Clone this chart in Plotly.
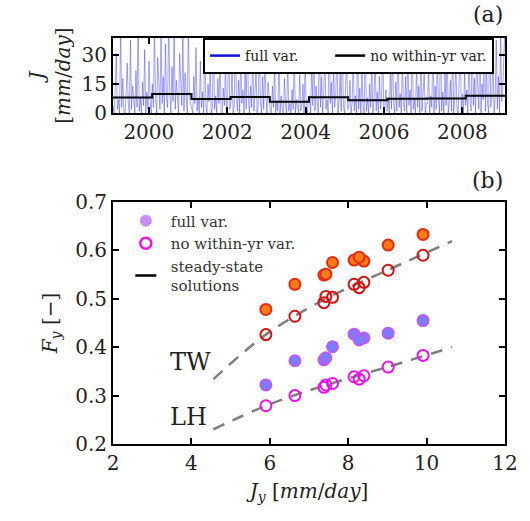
import pandas as pd
import plotly.graph_objects as go

# ---------------- data ----------------
years = [1999, 2000, 2001, 2002, 2003, 2004, 2005, 2006, 2007, 2008]
year_starts = ["1999-02-01", "2000-02-01", "2001-02-01", "2002-02-01", "2003-02-01",
               "2004-02-01", "2005-02-01", "2006-02-01", "2007-02-01", "2008-02-01",
               "2009-02-01"]
# annual mean rainfall rate J_y [mm/day]
J_annual = [8.15, 9.91, 7.38, 8.40, 5.90, 8.28, 6.64, 7.43, 7.60, 9.02]

# F_y values per year
TW_full = [0.580, 0.633, 0.549, 0.578, 0.478, 0.586, 0.530, 0.551, 0.575, 0.611]
TW_nowy = [0.530, 0.590, 0.492, 0.534, 0.426, 0.523, 0.464, 0.505, 0.503, 0.559]
LH_full = [0.427, 0.455, 0.374, 0.419, 0.322, 0.415, 0.372, 0.378, 0.401, 0.429]
LH_nowy = [0.339, 0.383, 0.317, 0.341, 0.279, 0.334, 0.300, 0.322, 0.325, 0.359]

# steady-state solutions
ss_J = [4.56, 5.9, 7.4, 9.0, 10.65]
TW_ss = [0.334, 0.426, 0.499, 0.559, 0.619]
LH_ss = [0.230, 0.279, 0.321, 0.359, 0.400]

# rainfall series (~10-day samples), one list per year
r1999 = [4, 0, 12, 31, 2, 7, 0, 45, 3, 18, 1, 0, 9, 26, 5, 0, 38, 2, 14, 6, 0, 22, 3, 50, 1, 8, 0, 16, 4, 33, 0, 11, 2, 27, 6, 0]
r2000 = [15, 3, 48, 7, 0, 29, 12, 2, 41, 5, 19, 0, 36, 8, 3, 52, 11, 0, 24, 6, 44, 2, 17, 9, 0, 31, 13, 4, 39, 1, 21, 7, 0, 46, 10, 5]
r2001 = [2, 0, 19, 5, 34, 1, 8, 0, 27, 3, 11, 0, 42, 4, 0, 15, 6, 23, 0, 3, 37, 2, 9, 0, 18, 5, 30, 1, 0, 13, 4, 25, 0, 7, 40, 2]
r2002 = [6, 21, 0, 3, 44, 9, 1, 17, 0, 32, 5, 12, 0, 26, 2, 48, 7, 0, 14, 3, 35, 1, 10, 22, 0, 4, 39, 6, 0, 19, 2, 28, 8, 0, 16, 5]
r2003 = [1, 0, 14, 3, 24, 0, 6, 1, 31, 0, 9, 2, 0, 18, 4, 0, 27, 1, 5, 0, 12, 2, 36, 0, 7, 3, 0, 20, 1, 4, 15, 0, 29, 2, 0, 8]
r2004 = [9, 0, 26, 4, 38, 1, 14, 6, 0, 43, 3, 19, 0, 11, 30, 2, 7, 0, 47, 5, 16, 0, 24, 3, 9, 35, 0, 6, 21, 1, 40, 4, 0, 13, 28, 2]
r2005 = [3, 17, 0, 5, 29, 1, 9, 0, 36, 2, 13, 0, 22, 4, 0, 41, 1, 8, 0, 15, 3, 26, 0, 6, 33, 1, 11, 0, 19, 2, 7, 38, 0, 4, 12, 1]
r2006 = [8, 0, 23, 2, 35, 5, 0, 16, 1, 42, 3, 10, 0, 28, 6, 1, 19, 0, 33, 4, 12, 0, 45, 2, 7, 0, 25, 3, 14, 0, 37, 1, 9, 20, 0, 5]
r2007 = [5, 24, 0, 9, 3, 39, 0, 14, 2, 27, 7, 0, 46, 1, 11, 0, 21, 4, 32, 0, 6, 17, 1, 40, 0, 8, 26, 3, 0, 13, 34, 2, 10, 0, 22, 4]
r2008 = [12, 0, 33, 6, 1, 47, 4, 18, 0, 29, 9, 2, 41, 0, 15, 7, 36, 1, 24, 5, 0, 50, 3, 11, 28, 0, 8, 38, 2, 19, 0, 44, 6, 13, 31, 45]

rain = r1999 + r2000 + r2001 + r2002 + r2003 + r2004 + r2005 + r2006 + r2007 + r2008
rain_dates = pd.date_range(year_starts[0], year_starts[-1], periods=len(rain))

FONT = "DejaVu Serif"

fig = go.Figure()

# ---------------- panel (a) ----------------
fig.add_trace(go.Scatter(
    x=rain_dates, y=rain, mode="lines",
    line=dict(color="rgba(40,40,235,0.42)", width=1.0),
    showlegend=False, xaxis="x", yaxis="y", hoverinfo="skip"))
fig.add_trace(go.Scatter(
    x=year_starts, y=J_annual + [J_annual[-1]], mode="lines", line_shape="hv",
    line=dict(color="black", width=2), showlegend=False, xaxis="x", yaxis="y"))
# legend entries for panel (a)
fig.add_trace(go.Scatter(x=[None], y=[None], mode="lines",
                         name="full var." + "\u00a0" * 6,
                         line=dict(color="#1010e0", width=2.5), legend="legend",
                         xaxis="x", yaxis="y"))
fig.add_trace(go.Scatter(x=[None], y=[None], mode="lines", name="no within-yr var.",
                         line=dict(color="black", width=2.5), legend="legend",
                         xaxis="x", yaxis="y"))

# ---------------- panel (b) ----------------
for yss in (TW_ss, LH_ss):
    fig.add_trace(go.Scatter(
        x=ss_J, y=yss, mode="lines", line_shape="spline",
        line=dict(color="#7f7f7f", width=2.5, dash="12px,9px"),
        showlegend=False, xaxis="x2", yaxis="y2"))

fig.add_trace(go.Scatter(
    x=J_annual, y=TW_full, mode="markers", showlegend=False,
    marker=dict(symbol="circle", size=11, color="#ff7a1a",
                line=dict(color="#e82a10", width=2)),
    xaxis="x2", yaxis="y2"))
fig.add_trace(go.Scatter(
    x=J_annual, y=TW_nowy, mode="markers", showlegend=False,
    marker=dict(symbol="circle-open", size=11, color="#d81010",
                line=dict(color="#d81010", width=2)),
    xaxis="x2", yaxis="y2"))
fig.add_trace(go.Scatter(
    x=J_annual, y=LH_full, mode="markers", showlegend=False,
    marker=dict(symbol="circle", size=11, color="#7c7cff",
                line=dict(color="#b85cf5", width=2)),
    xaxis="x2", yaxis="y2"))
fig.add_trace(go.Scatter(
    x=J_annual, y=LH_nowy, mode="markers", showlegend=False,
    marker=dict(symbol="circle-open", size=11, color="#ee10ee",
                line=dict(color="#ee10ee", width=2)),
    xaxis="x2", yaxis="y2"))

# legend entries for panel (b)
fig.add_trace(go.Scatter(x=[None], y=[None], mode="markers", name="full var.",
                         marker=dict(symbol="circle", size=11, color="#cc8cf7",
                                     line=dict(color="#cc8cf7", width=1)),
                         legend="legend2", xaxis="x2", yaxis="y2"))
fig.add_trace(go.Scatter(x=[None], y=[None], mode="markers", name="no within-yr var.",
                         marker=dict(symbol="circle-open", size=11, color="#ee10ee",
                                     line=dict(color="#ee10ee", width=2.5)),
                         legend="legend2", xaxis="x2", yaxis="y2"))
fig.add_trace(go.Scatter(x=[None], y=[None], mode="markers", name="steady-state<br>solutions",
                         marker=dict(symbol="line-ew-open", size=15, color="black",
                                     line=dict(color="black", width=2.5)),
                         legend="legend2", xaxis="x2", yaxis="y2"))

axis_common = dict(showline=True, linecolor="black", linewidth=2, mirror="ticks",
                   ticks="inside", ticklen=6, tickwidth=1.5, tickcolor="black",
                   showgrid=False, zeroline=False,
                   tickfont=dict(family=FONT, size=20, color="#222"))

fig.update_layout(
    width=530, height=521,
    margin=dict(l=113, r=22, t=38, b=77),
    paper_bgcolor="white", plot_bgcolor="white",
    font=dict(family=FONT, color="#222"),
    xaxis=dict(domain=[0, 1], anchor="y", type="date",
               range=[year_starts[0], year_starts[-1]],
               tick0="2000-01-01", dtick="M24", tickformat="%Y", **axis_common),
    yaxis=dict(domain=[0.815, 1], anchor="x", range=[0, 39],
               tickvals=[0, 15, 30],
               title=dict(text="<i>J</i><br>[<i>mm</i>/<i>day</i>]",
                          font=dict(family=FONT, size=20), standoff=6),
               **axis_common),
    xaxis2=dict(domain=[0, 1], anchor="y2", range=[2, 12], dtick=2,
                title=dict(text="<i>J<sub>y</sub></i> [<i>mm</i>/<i>day</i>]",
                           font=dict(family=FONT, size=20), standoff=10),
                **axis_common),
    yaxis2=dict(domain=[0, 0.596], anchor="x2", range=[0.2, 0.7], dtick=0.1,
                tickformat=".1f",
                title=dict(text="<i>F<sub>y</sub></i> [−]",
                           font=dict(family=FONT, size=20), standoff=12),
                **axis_common),
    legend=dict(orientation="h", x=0.972, xanchor="right", y=1.0, yanchor="top",
                bgcolor="white", bordercolor="black", borderwidth=2,
                font=dict(family=FONT, size=14, color="#222"), itemwidth=30,
                tracegroupgap=0),
    legend2=dict(orientation="v", x=0.02, xanchor="left", y=0.59, yanchor="top",
                 bgcolor="rgba(0,0,0,0)", borderwidth=0,
                 font=dict(family=FONT, size=15, color="#333"), itemwidth=40),
    annotations=[
        dict(text="(a)", xref="paper", yref="paper", x=1.0, y=1.057,
             xanchor="right", yanchor="middle", showarrow=False,
             font=dict(family=FONT, size=22, color="#222")),
        dict(text="(b)", xref="paper", yref="paper", x=1.0, y=0.650,
             xanchor="right", yanchor="middle", showarrow=False,
             font=dict(family=FONT, size=22, color="#222")),
        dict(text="TW", xref="x2", yref="y2", x=3.98, y=0.370,
             xanchor="center", yanchor="middle", showarrow=False,
             font=dict(family=FONT, size=24, color="#222")),
        dict(text="LH", xref="x2", yref="y2", x=3.93, y=0.255,
             xanchor="center", yanchor="middle", showarrow=False,
             font=dict(family=FONT, size=24, color="#222")),
    ],
)

fig.write_html("out.html")
